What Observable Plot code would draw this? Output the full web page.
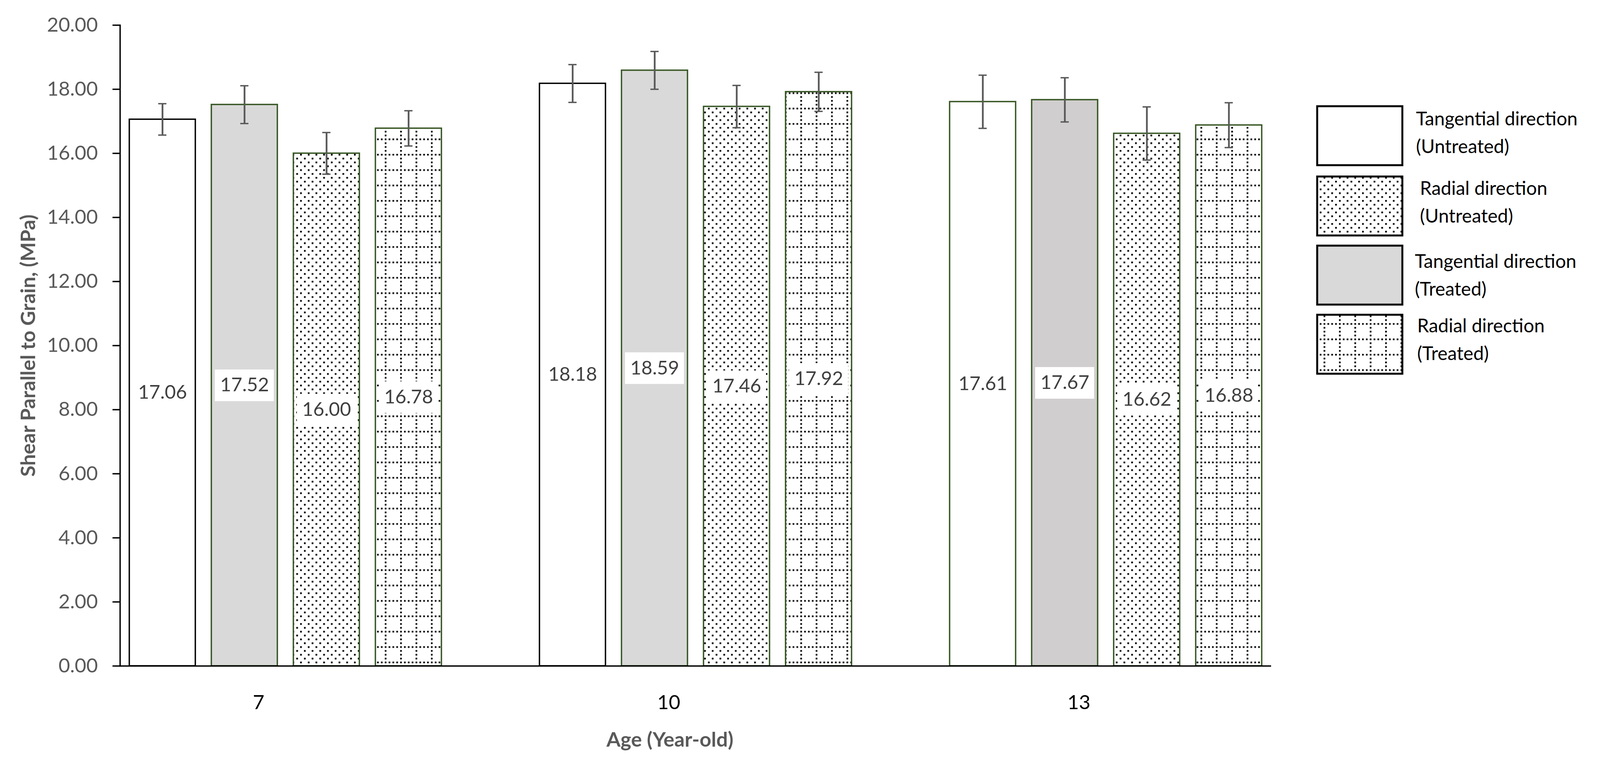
<!DOCTYPE html>
<html>
<head>
<meta charset="utf-8">
<script src="https://cdn.jsdelivr.net/npm/d3@7"></script>
<script src="https://cdn.jsdelivr.net/npm/@observablehq/plot@0.6"></script>
<style>
  html, body { margin: 0; padding: 0; background: white; }
  #wrap { position: relative; width: 4152px; height: 1959px; font-family: Lato, "Open Sans", sans-serif; }
  #legend { position: absolute; left: 0; top: 0; }
</style>
</head>
<body>
<svg width="0" height="0" style="position:absolute">
  <defs>
    <pattern id="dots" patternUnits="userSpaceOnUse" width="19.7" height="19.7">
      <rect x="0" y="0" width="4.4" height="4.4" fill="black"/>
      <rect x="9.85" y="9.85" width="4.4" height="4.4" fill="black"/>
    </pattern>
    <pattern id="grid" patternUnits="userSpaceOnUse" width="39.4" height="39.4">
      <rect x="0" y="0" width="4.3" height="4.3" fill="black"/>
      <rect x="9.85" y="0" width="4.3" height="4.3" fill="black"/>
      <rect x="19.7" y="0" width="4.3" height="4.3" fill="black"/>
      <rect x="29.55" y="0" width="4.3" height="4.3" fill="black"/>
      <rect x="0" y="9.85" width="4.3" height="4.3" fill="black"/>
      <rect x="0" y="19.7" width="4.3" height="4.3" fill="black"/>
      <rect x="0" y="29.55" width="4.3" height="4.3" fill="black"/>
    </pattern>
  </defs>
</svg>
<div id="wrap"></div>
<script>
// ---- data ----
const ages = ["7", "10", "13"];
const seriesNames = [
  "Tangential direction (Untreated)",
  "Tangential direction (Treated)",
  "Radial direction (Untreated)",
  "Radial direction (Treated)"
];
const tangUntreated = [17.06, 18.18, 17.61];
const tangTreated   = [17.52, 18.59, 17.67];
const radUntreated  = [16.00, 17.46, 16.62];
const radTreated    = [16.78, 17.92, 16.88];
const tangUntreatedErr = [0.49, 0.59, 0.83];
const tangTreatedErr   = [0.59, 0.59, 0.69];
const radUntreatedErr  = [0.65, 0.66, 0.83];
const radTreatedErr    = [0.55, 0.61, 0.70];
const yTicks = [0, 2, 4, 6, 8, 10, 12, 14, 16, 18, 20];
const legendLines = [
  ["Tangential direction", "(Untreated)"],
  ["Radial direction", "(Untreated)"],
  ["Tangential direction", "(Treated)"],
  ["Radial direction", "(Treated)"]
];

// ---- build table ----
const values = [tangUntreated, tangTreated, radUntreated, radTreated];
const errors = [tangUntreatedErr, tangTreatedErr, radUntreatedErr, radTreatedErr];
const fills = ["white", "#d9d9d9", "url(#dots)", "url(#grid)"];
const green = "#375623";
const rows = [];
const keys = [];
ages.forEach((age, i) => {
  if (i > 0) keys.push("gap" + i);
  seriesNames.forEach((name, s) => {
    const key = age + "|" + s;
    keys.push(key);
    rows.push({
      age, s, name, key,
      value: values[s][i],
      err: errors[s][i],
      fill: (age === "13" && s === 1) ? "#d0cece" : fills[s],
      stroke: (s === 0 && age !== "13") ? "black" : green
    });
  });
});

const grey = "#595959";
const chart = Plot.plot({
  width: 4152,
  height: 1959,
  marginLeft: 307,
  marginRight: 898,
  marginTop: 64,
  marginBottom: 254,
  style: { fontFamily: "Lato, 'Open Sans', sans-serif", background: "white" },
  x: { type: "band", domain: keys, paddingInner: 0.197, paddingOuter: 0.1 },
  y: { domain: [0, 20] },
  color: { type: "identity" },
  marks: [
    Plot.barY(rows, { x: "key", y: "value", fill: "fill", stroke: "stroke", strokeWidth: 3.5 }),
    Plot.tickY(rows, { x: "key", y: d => d.value / 2, stroke: "white", strokeWidth: 81, insetLeft: 9, insetRight: 9 }),
    Plot.text(rows, { x: "key", y: d => d.value / 2, text: d => d.value.toFixed(2), fontSize: 49, fill: "#404040" }),
    Plot.ruleX(rows, { x: "key", y1: d => d.value - d.err, y2: d => d.value + d.err, stroke: grey, strokeWidth: 4.5 }),
    Plot.tickY(rows, { x: "key", y: d => d.value + d.err, stroke: grey, strokeWidth: 3.5, insetLeft: 74, insetRight: 74 }),
    Plot.tickY(rows, { x: "key", y: d => d.value - d.err, stroke: grey, strokeWidth: 3.5, insetLeft: 74, insetRight: 74 }),
    Plot.ruleY([0], { stroke: "black", strokeWidth: 3.5 }),
    Plot.frame({ anchor: "left", stroke: "black", strokeWidth: 3.5 }),
    Plot.axisY({ ticks: yTicks, tickFormat: d3.format(".2f"), tickSize: 19, tickPadding: 38,
                 fontSize: 51, fill: grey, stroke: "black", strokeWidth: 3.5, label: null }),
    Plot.axisX({ ticks: ages.map(a => a + "|1"), tickFormat: d => d.split("|")[0], tickSize: 0,
                 tickPadding: 74, fontSize: 51, fill: "black", dx: 36, label: null }),
    Plot.text(["Shear Parallel to Grain, (MPa)"], { text: d => d, frameAnchor: "left", dx: -234, rotate: -90,
                 fontSize: 52, fontWeight: "bold", fill: grey, textAnchor: "middle", lineAnchor: "middle" }),
    Plot.text(["Age (Year-old)"], { text: d => d, frameAnchor: "bottom", dy: 190, dx: -66,
                 fontSize: 52, fontWeight: "bold", fill: grey, textAnchor: "middle", lineAnchor: "middle" })
  ]
});
document.getElementById("wrap").appendChild(chart);

// ---- legend ----
const leg = d3.select("#wrap").append("svg").attr("id", "legend")
  .attr("width", 4152).attr("height", 1959)
  .style("pointer-events", "none");
const legendFills = ["white", "url(#dots)", "#d9d9d9", "url(#grid)"];
const boxTops = [272, 452, 629, 806];
const textX = [3625, 3635, 3622, 3628];
const textBase = [49, 47, 57, 45];
legendLines.forEach((lines, i) => {
  leg.append("rect")
    .attr("x", 3372).attr("y", boxTops[i]).attr("width", 218).attr("height", 151)
    .attr("fill", legendFills[i]).attr("stroke", "black").attr("stroke-width", 5);
  lines.forEach((t, j) => {
    leg.append("text")
      .attr("x", textX[i]).attr("y", boxTops[i] + textBase[i] + j * 71)
      .attr("font-family", "Lato, 'Open Sans', sans-serif")
      .attr("font-size", 48).attr("fill", "black")
      .text(t);
  });
});
</script>
</body>
</html>
